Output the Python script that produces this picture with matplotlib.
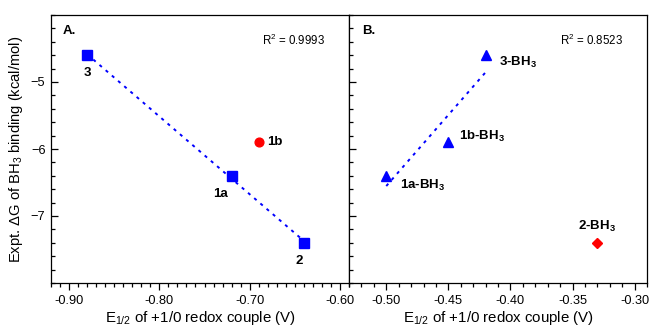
import numpy as np
import matplotlib
matplotlib.use("Agg")
import matplotlib.pyplot as plt
from matplotlib.ticker import MultipleLocator, FixedLocator, FormatStrFormatter

plt.rcParams['font.family'] = ['Liberation Sans', 'DejaVu Sans']
plt.rcParams['mathtext.fontset'] = 'custom'
plt.rcParams['mathtext.rm'] = 'Liberation Sans'
plt.rcParams['mathtext.it'] = 'Liberation Sans:italic'
plt.rcParams['mathtext.bf'] = 'Liberation Sans:bold'

# Data
dG = {"3": -4.6, "1a": -6.4, "1b": -5.9, "2": -7.4}
E_A = {"3": -0.88, "1a": -0.72, "1b": -0.69, "2": -0.64}
E_B = {"3": -0.42, "1a": -0.50, "1b": -0.45, "2": -0.33}
fit_A = ["3", "1a", "2"]
fit_B = ["3", "1a", "1b"]
r2_A = "0.9993"
r2_B = "0.8523"

blue = "#0000ff"
red = "#ff0000"

fig = plt.figure(figsize=(6.49, 3.28), dpi=100)
W, H = 649, 328
axA = fig.add_axes([51 / W, (H - 283) / H, (349 - 51) / W, (283 - 15) / H])
axB = fig.add_axes([349 / W, (H - 283) / H, (647 - 349) / W, (283 - 15) / H])

for ax in (axA, axB):
    ax.set_ylim(-8, -4)
    ax.yaxis.set_major_locator(FixedLocator([-5, -6, -7]))
    ax.yaxis.set_minor_locator(MultipleLocator(0.2))
    ax.tick_params(axis='y', which='both', direction='in', left=True, right=False)
    ax.tick_params(axis='y', which='major', length=5, width=0.9, pad=4, labelsize=9.2)
    ax.tick_params(axis='y', which='minor', length=3, width=0.9)
    ax.tick_params(axis='x', which='both', direction='out', top=False)
    ax.tick_params(axis='x', which='major', length=5, width=0.9, labelsize=9.2, pad=4)
    ax.tick_params(axis='x', which='minor', length=3, width=0.9)
    for s in ax.spines.values():
        s.set_linewidth(0.9)
    ax.set_xlabel(r"E$_{1/2}$ of +1/0 redox couple (V)", fontsize=10.8, labelpad=1)

axB.tick_params(axis='y', which='both', labelleft=False)

# Panel A
axA.set_xlim(-0.92, -0.59)
axA.xaxis.set_major_locator(MultipleLocator(0.1))
axA.xaxis.set_minor_locator(MultipleLocator(0.01))
axA.xaxis.set_major_formatter(FormatStrFormatter('%.2f'))

xa = np.array([E_A[k] for k in fit_A])
ya = np.array([dG[k] for k in fit_A])
pa = np.polyfit(xa, ya, 1)
xl = np.array([xa.min(), xa.max()])
axA.plot(xl, np.polyval(pa, xl), color=blue, lw=1.4, dashes=(1.6, 2.6), zorder=2)
axA.plot(xa, ya, 's', color=blue, ms=6.5, zorder=3)
axA.plot([E_A["1b"]], [dG["1b"]], 'o', color=red, ms=6.3, zorder=3)

lab = dict(fontsize=9.5, fontweight='bold')
axA.annotate("3", (E_A["3"], dG["3"]), xytext=(0, -13), textcoords='offset points', ha='center', va='center', **lab)
axA.annotate("1a", (E_A["1a"], dG["1a"]), xytext=(-8, -13), textcoords='offset points', ha='center', va='center', **lab)
axA.annotate("2", (E_A["2"], dG["2"]), xytext=(-3, -13), textcoords='offset points', ha='center', va='center', **lab)
axA.annotate("1b", (E_A["1b"], dG["1b"]), xytext=(6, 0), textcoords='offset points', ha='left', va='center', **lab)
axA.text(0.04, 0.94, "A.", transform=axA.transAxes, fontsize=9.5, fontweight='bold', ha='left', va='center')
axA.text(0.92, 0.905, r"R$^2$ = " + r2_A, transform=axA.transAxes, fontsize=8.3, ha='right', va='center')
axA.set_ylabel(r"Expt. $\Delta$G of BH$_3$ binding (kcal/mol)", fontsize=10.6, labelpad=4)

# Panel B
axB.set_xlim(-0.53, -0.29)
axB.xaxis.set_major_locator(MultipleLocator(0.05))
axB.xaxis.set_minor_locator(MultipleLocator(0.01))
axB.xaxis.set_major_formatter(FormatStrFormatter('%.2f'))

xb = np.array([E_B[k] for k in fit_B])
yb = np.array([dG[k] for k in fit_B])
pb = np.polyfit(xb, yb, 1)
xl = np.array([xb.min(), xb.max()])
axB.plot(xl, np.polyval(pb, xl), color=blue, lw=1.4, dashes=(1.6, 2.6), zorder=2)
axB.plot(xb, yb, '^', color=blue, ms=6.8, zorder=3)
axB.plot([E_B["2"]], [dG["2"]], 'D', color=red, ms=5.4, zorder=3)

axB.annotate(r"3-BH$_\mathbf{3}$", (E_B["3"], dG["3"]), xytext=(10, -5), textcoords='offset points', ha='left', va='center', **lab)
axB.annotate(r"1b-BH$_\mathbf{3}$", (E_B["1b"], dG["1b"]), xytext=(8, 4.5), textcoords='offset points', ha='left', va='center', **lab)
axB.annotate(r"1a-BH$_\mathbf{3}$", (E_B["1a"], dG["1a"]), xytext=(10, -7), textcoords='offset points', ha='left', va='center', **lab)
axB.annotate(r"2-BH$_\mathbf{3}$", (E_B["2"], dG["2"]), xytext=(0, 12), textcoords='offset points', ha='center', va='center', **lab)
axB.text(0.045, 0.94, "B.", transform=axB.transAxes, fontsize=9.5, fontweight='bold', ha='left', va='center')
axB.text(0.92, 0.905, r"R$^2$ = " + r2_B, transform=axB.transAxes, fontsize=8.3, ha='right', va='center')

fig.savefig("out.png", dpi=100)
